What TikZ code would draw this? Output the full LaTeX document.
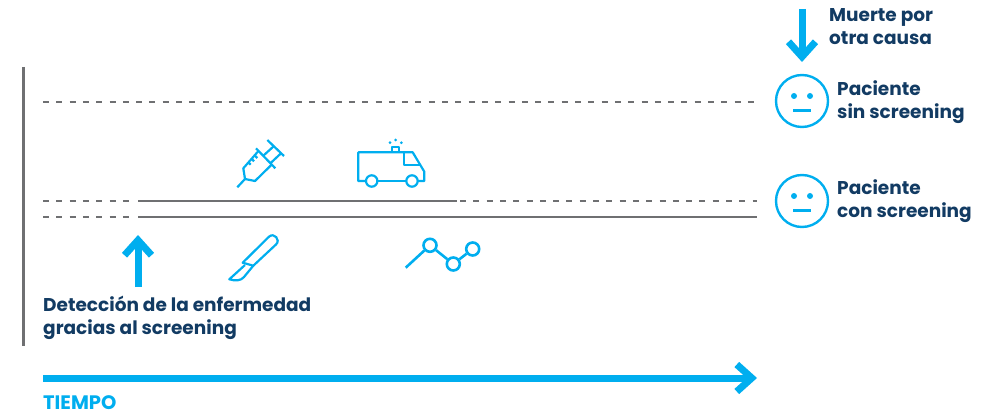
\documentclass[tikz,border=0pt]{standalone}
\usepackage{fontspec}
\setmainfont{Poppins}
\usepackage{xcolor}
\usepackage{tikz}
\usetikzlibrary{positioning, arrows.meta}

\definecolor{skyblue}{HTML}{00AEEF}
\definecolor{navyblue}{HTML}{123B63}
\definecolor{linegray}{HTML}{6F7072}

\tikzset{
  label text/.style={font=\fontsize{18.5}{23}\selectfont\bfseries, text=navyblue, align=left, inner sep=0pt, anchor=north west},
  time line/.style={line width=2.1pt, draw=linegray},
  dash line/.style={time line, dash pattern=on 6pt off 7.3pt},
  big arrow/.style={line width=7pt, draw=skyblue, -{Straight Barb[length=15pt, width=27pt, line width=7pt]}},
  icon line/.style={line width=2.2pt, draw=skyblue, line join=round},
  face/.style={circle, draw=skyblue, line width=2.4pt, minimum size=52pt, inner sep=0pt},
  icon dot/.style={circle, draw=skyblue, line width=2.6pt, fill=white, minimum size=13pt, inner sep=0pt}
}

\begin{document}
\begin{tikzpicture}[x=1pt, y=-1pt]
  \useasboundingbox (0,0) rectangle (991,414);

  % axes
  \coordinate (axistop) at (23.5,67);
  \coordinate (axisbottom) at (23.5,346);
  \draw[time line] (axistop) -- (axisbottom);
  \coordinate (timestart) at (43,378);
  \coordinate (timeend) at (757,378);
  \draw[big arrow] (timestart) -- (timeend);
  \node[label text, text=skyblue, font=\fontsize{19.5}{23}\selectfont\bfseries] (tiempo) at (43,395) {TIEMPO};

  % patient lines
  \coordinate (nostart) at (43,102);
  \coordinate (noend) at (757,102);
  \coordinate (conastart) at (43,201);
  \coordinate (conadetect) at (138,201);
  \coordinate (conastop) at (457,201);
  \coordinate (conaend) at (757,201);
  \coordinate (conbstart) at (43,217);
  \coordinate (conbdetect) at (138,217);
  \coordinate (conbend) at (757,217);
  \draw[dash line] (nostart) -- (noend);
  \draw[dash line] (conastart) -- ([xshift=-5pt]conadetect);
  \draw[time line] (conadetect) -- (conastop);
  \draw[dash line] ([xshift=3pt]conastop) -- (conaend);
  \draw[dash line] (conbstart) -- ([xshift=-5pt]conbdetect);
  \draw[time line] (conbdetect) -- (conbend);

  % arrows
  \coordinate (upstart) at (138,287);
  \coordinate (uptip) at (138,235);
  \draw[big arrow] (upstart) -- (uptip);
  \coordinate (downstart) at (802,9);
  \coordinate (downtip) at (802,62);
  \draw[big arrow] (downstart) -- (downtip);

  % faces
  \foreach \facename/\facey in {faceno/101, facecon/201} {
    \node[face] (\facename) at (802,\facey) {};
    \fill[skyblue] ([shift={(-8,-5)}]\facename.center) circle (3pt);
    \fill[skyblue] ([shift={(8,-5)}]\facename.center) circle (3pt);
    \draw[skyblue, line width=3pt] ([shift={(-9,10)}]\facename.center) -- ([shift={(9,10)}]\facename.center);
  }

  % syringe
  \draw[icon line] (267.3,140) -- (284,156);
  \draw[icon line] (256,148.3) -- (275.3,168.3);
  \draw[icon line] (263.3,155.7) -- (274,146);
  \draw[icon line] (271,162.7) -- (281,153.3);
  \draw[icon line] (258.7,150.7) -- (243.3,168.3) -- (245,179) -- (255,181) -- (272,164.3);
  \draw[icon line] (245,179) -- (237.3,187.3);
  \draw[icon line] (248.3,162.3) -- (250.7,164.7);
  \draw[icon line] (251.7,159) -- (254,161.3);
  \draw[icon line] (255,155.7) -- (257.3,158);

  % ambulance
  \draw[icon line] (366,181) -- (358.3,181) -- (358.3,152.3) -- (412.7,152.3) -- (424.3,171.7) -- (424.3,181) -- (417.7,181);
  \draw[icon line] (377.4,181) -- (406.3,181);
  \draw[icon line] (371.7,181) circle (5.7pt);
  \draw[icon line] (412,181) circle (5.7pt);
  \draw[icon line] (404.3,153) -- (404.3,165) -- (420,165);
  \draw[icon line] (392,152.3) rectangle (399.3,146.7);
  \fill[skyblue] (390,142.7) circle (1.5pt) (395.7,140) circle (1.5pt) (401.3,142.7) circle (1.5pt);

  % scalpel
  \draw[icon line] (242.7,262.7) -- (269,236.7) .. controls (274,232) and (281,240) .. (276,244.5) -- (253.3,265.7) -- cycle;
  \draw[icon line] (245,265) -- (229.3,279.3) .. controls (235,281) and (241,281) .. (244,277) -- (253.3,265.7);

  % graph
  \node[icon dot] (graphb) at (430,245.3) {};
  \node[icon dot] (graphc) at (453.3,264) {};
  \node[icon dot] (graphd) at (472.7,249) {};
  \coordinate (grapha) at (405.7,267.7);
  \draw[icon line, line width=2.6pt] (grapha) -- (graphb) -- (graphc) -- (graphd);

  % labels
  \node[label text] (muerte) at (829,8.5) {Muerte por\\otra causa};
  \node[label text] (sinlabel) at (837,80) {Paciente\\sin screening};
  \node[label text] (conlabel) at (837,179.5) {Paciente\\con screening};
  \node[label text] (deteccion) at (43,296) {Detección de la enfermedad\\gracias al screening};
\end{tikzpicture}
\end{document}
